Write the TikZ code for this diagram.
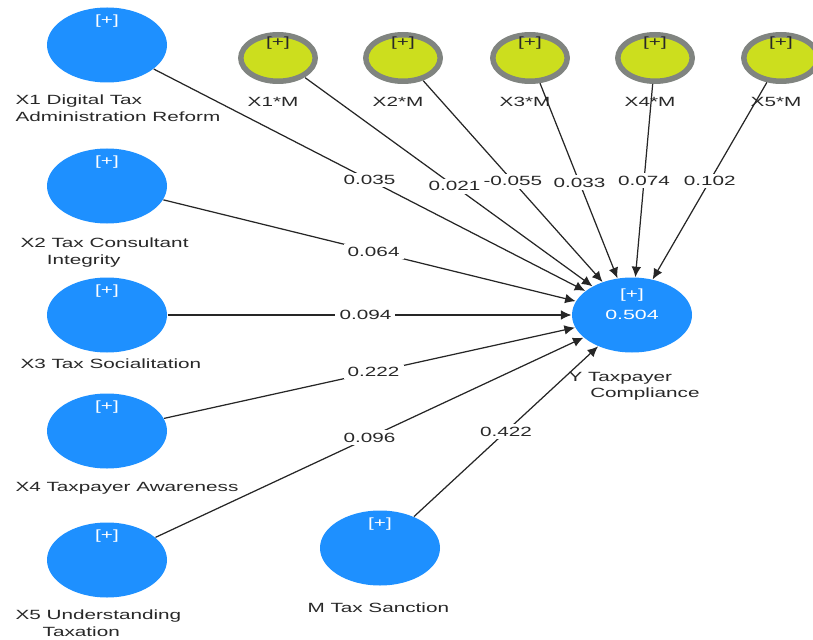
\documentclass[tikz,border=0pt]{standalone}
\usepackage{fontspec}
\usepackage{tikz}
\usetikzlibrary{calc, arrows.meta, positioning}
\usepackage{tkz-euclide}
\newfontfamily\plsfamily{Liberation Sans}
\newcommand{\plsfont}{\plsfamily\fontsize{7.6}{9.6}\selectfont}
\definecolor{plsblue}{RGB}{30,144,255}
\definecolor{plsyellow}{RGB}{204,222,30}
\definecolor{plsgray}{RGB}{128,132,128}
\definecolor{plstext}{RGB}{40,40,40}
\tikzset{
  plus/.style={anchor=north, inner sep=0pt, font=\plsfont, xscale=1.55},
  latent/.style={circle, fill=plsblue, minimum size=1.5cm, inner sep=0pt, xscale=1.6,
    text=white, font=\plsfont, label={[plus, text=white, yshift=#1]north:{[+]}}},
  latent/.default=-0.14cm,
  moderator/.style={circle, fill=plsyellow, draw=plsgray, line width=0.11cm,
    minimum size=0.93cm, inner sep=0pt, xscale=1.6,
    label={[plus, text=plstext, yshift=-0.08cm]north:{[+]}}},
  lvname/.style={anchor=north west, inner sep=0pt, align=left, text=plstext, font=\plsfont, xscale=1.55},
  modname/.style={anchor=north, inner sep=0pt, text=plstext, font=\plsfont, xscale=1.55},
  coef/.style={fill=white, inner sep=1.5pt, text=plstext, font=\plsfont, xscale=1.55},
  pathline/.style={->, line width=0.7pt, draw=black!85}
}

\begin{document}
\begin{tikzpicture}[>={Latex[length=6pt,width=5.5pt]}]
\useasboundingbox (0,0) rectangle (16.26,12.78);
\tkzDefPoints{2.14/11.88/X1, 2.14/9.06/X2, 2.14/6.48/X3, 2.14/4.16/X4, 2.14/1.58/X5}
\tkzDefPoints{7.60/1.82/M, 12.64/6.48/Y}
\tkzDefPoints{5.56/11.62/X1M, 8.06/11.62/X2M, 10.60/11.62/X3M, 13.10/11.62/X4M, 15.62/11.62/X5M}

\node[latent] (x1) at (X1) {};
\node[latent] (x2) at (X2) {};
\node[latent] (x3) at (X3) {};
\node[latent] (x4) at (X4) {};
\node[latent] (x5) at (X5) {};
\node[latent] (m) at (M) {};
\node[latent=-0.22cm] (y) at (Y) {0.504};

\node[moderator] (x1m) at (X1M) {};
\node[moderator] (x2m) at (X2M) {};
\node[moderator] (x3m) at (X3M) {};
\node[moderator] (x4m) at (X4M) {};
\node[moderator] (x5m) at (X5M) {};

\node[lvname] (x1name) at (0.30,10.89) {X1 Digital Tax\\Administration Reform};
\node[lvname] (x2name) at (0.40,8.03) {X2 Tax Consultant\\\hspace*{0.34cm}Integrity};
\node[lvname] (x3name) at (0.40,5.61) {X3 Tax Socialitation};
\node[lvname] (x4name) at (0.30,3.15) {X4 Taxpayer Awareness};
\node[lvname] (x5name) at (0.30,0.59) {X5 Understanding\\\hspace*{0.35cm}Taxation};
\node[lvname] (mname) at (6.14,0.73) {M Tax Sanction};
\node[lvname] (yname) at (11.36,5.35) {Y Taxpayer\\\hspace*{0.28cm}Compliance};

\node[modname] (x1mname) at (5.46,10.85) {X1*M};
\node[modname] (x2mname) at (7.96,10.85) {X2*M};
\node[modname] (x3mname) at (10.50,10.85) {X3*M};
\node[modname] (x4mname) at (13.00,10.85) {X4*M};
\node[modname] (x5mname) at (15.52,10.85) {X5*M};

\draw[pathline] (x1) -- node[coef, pos=0.50]{0.035} (y);
\draw[pathline] (x2) -- node[coef, pos=0.51]{0.064} (y);
\draw[pathline] (x3) -- node[coef, pos=0.49]{0.094} (y);
\draw[pathline] (x4) -- node[coef, pos=0.51]{0.222} (y);
\draw[pathline] (x5) -- node[coef, pos=0.50]{0.096} (y);
\draw[pathline] (m) -- node[coef, pos=0.50]{0.422} (y);
\draw[pathline] (x1m) -- node[coef, pos=0.52]{0.021} (y);
\draw[pathline] (x2m) -- node[coef, pos=0.50]{-0.055} (y);
\draw[pathline] (x3m) -- node[coef, pos=0.51]{0.033} (y);
\draw[pathline] (x4m) -- node[coef, pos=0.50]{0.074} (y);
\draw[pathline] (x5m) -- node[coef, pos=0.50]{0.102} (y);

    \end{tikzpicture}
\end{document}
